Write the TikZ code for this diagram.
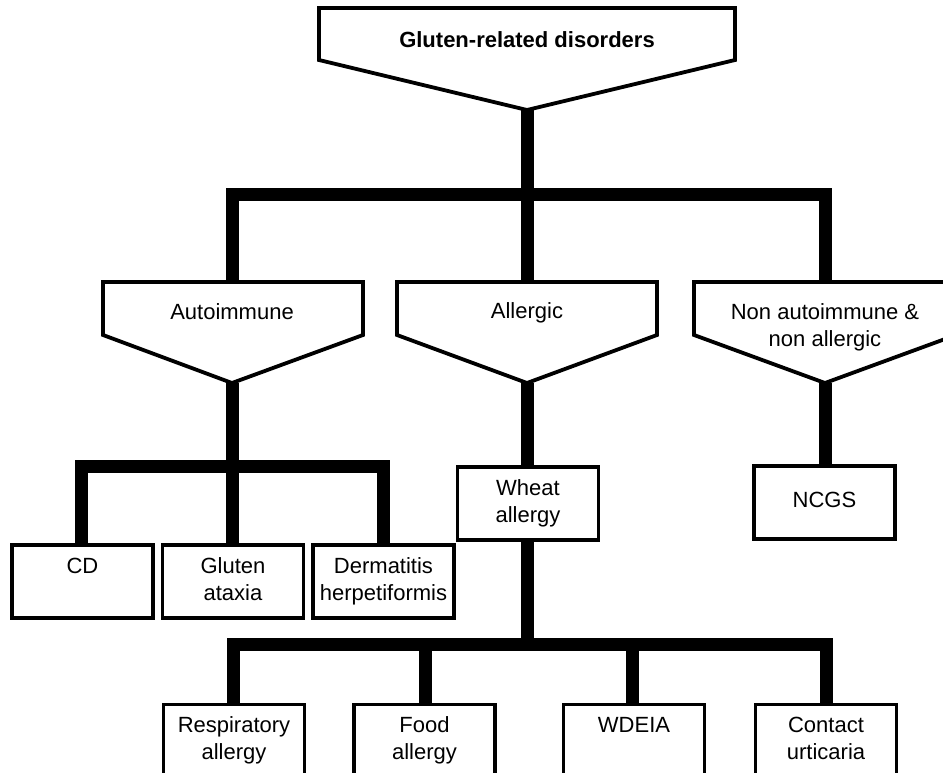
\documentclass[tikz,border=0pt]{standalone}
\usepackage{fontspec}
\setmainfont{Liberation Sans}

\tikzset{
  box/.style={draw, line width=3.8pt, minimum width=141, minimum height=73,
    inner sep=0pt, align=center, font=\fontsize{22}{27}\selectfont},
  funnel/.style={draw, line width=3.8pt, line join=miter},
  label text/.style={align=center, inner sep=0pt, font=\fontsize{22}{27}\selectfont},
  link/.style={line width=13pt, line join=miter}
}

\begin{document}
\begin{tikzpicture}[x=1pt, y=-1pt]
    \clip (0,0) rectangle (943,773);

    % funnels
    \draw[funnel] (319,8) -- (735,8) -- (735,60) -- (527,110) -- (319,60) -- cycle;
    \draw[funnel] (103,282) -- (363,282) -- (363,335) -- (232,383) -- (103,335) -- cycle;
    \draw[funnel] (397,282) -- (657,282) -- (657,335) -- (527,383) -- (397,335) -- cycle;
    \draw[funnel] (694,282) -- (956,282) -- (956,335) -- (825,383) -- (694,335) -- cycle;

    \coordinate (grd-tip) at (527,110);
    \coordinate (auto-top) at (232,282);
    \coordinate (auto-tip) at (232,383);
    \coordinate (allg-top) at (527,282);
    \coordinate (allg-tip) at (527,383);
    \coordinate (nona-top) at (825,282);
    \coordinate (nona-tip) at (825,383);

    \node[label text, font=\fontsize{22}{27}\selectfont\bfseries] (grd) at (527,40) {Gluten-related disorders};
    \node[label text] (auto) at (232,312) {Autoimmune};
    \node[label text] (allg) at (527,313) {Allergic};
    \node[label text] (nona) at (825,327) {Non autoimmune \&\\non allergic};

    % boxes
    \node[box] (cd) at (82.5,581.5) {\strut CD\\\strut};
    \node[box] (ga) at (233,581.5) {\strut Gluten\\ataxia\strut};
    \node[box] (dh) at (383.5,581.5) {\strut Dermatitis\\herpetiformis\strut};
    \node[box] (wa) at (528,503.5) {\strut Wheat\\allergy\strut};
    \node[box] (ncgs) at (824.5,502.5) {\strut NCGS};
    \node[box] (ra) at (234,741) {\strut Respiratory\\allergy\strut};
    \node[box] (fa) at (424.5,741) {\strut Food\\allergy\strut};
    \node[box] (wdeia) at (634,741) {\strut WDEIA\\\strut};
    \node[box] (cu) at (826,741) {\strut Contact\\urticaria\strut};

    % links
    \draw[link] (grd-tip) -- (allg-top);
    \draw[link] (auto-top) -- (232,195) -- (825,195) -- (nona-top);
    \draw[link] (auto-tip) -- (232,466);
    \draw[link] (cd.north -| 81,0) -- (81,466) -- (383,466) -- (dh.north -| 383,0);
    \draw[link] (232,466) -- (ga.north -| 232,0);
    \draw[link] (allg-tip) -- (wa.north -| 527,0);
    \draw[link] (nona-tip) -- (ncgs.north -| 825,0);
    \draw[link] (wa.south -| 527,0) -- (527,644);
    \draw[link] (ra.north -| 233,0) -- (233,644) -- (826,644) -- (cu);
    \draw[link] (fa.north -| 425,0) -- (425,644);
    \draw[link] (wdeia.north -| 632,0) -- (632,644);
\end{tikzpicture}
\end{document}
